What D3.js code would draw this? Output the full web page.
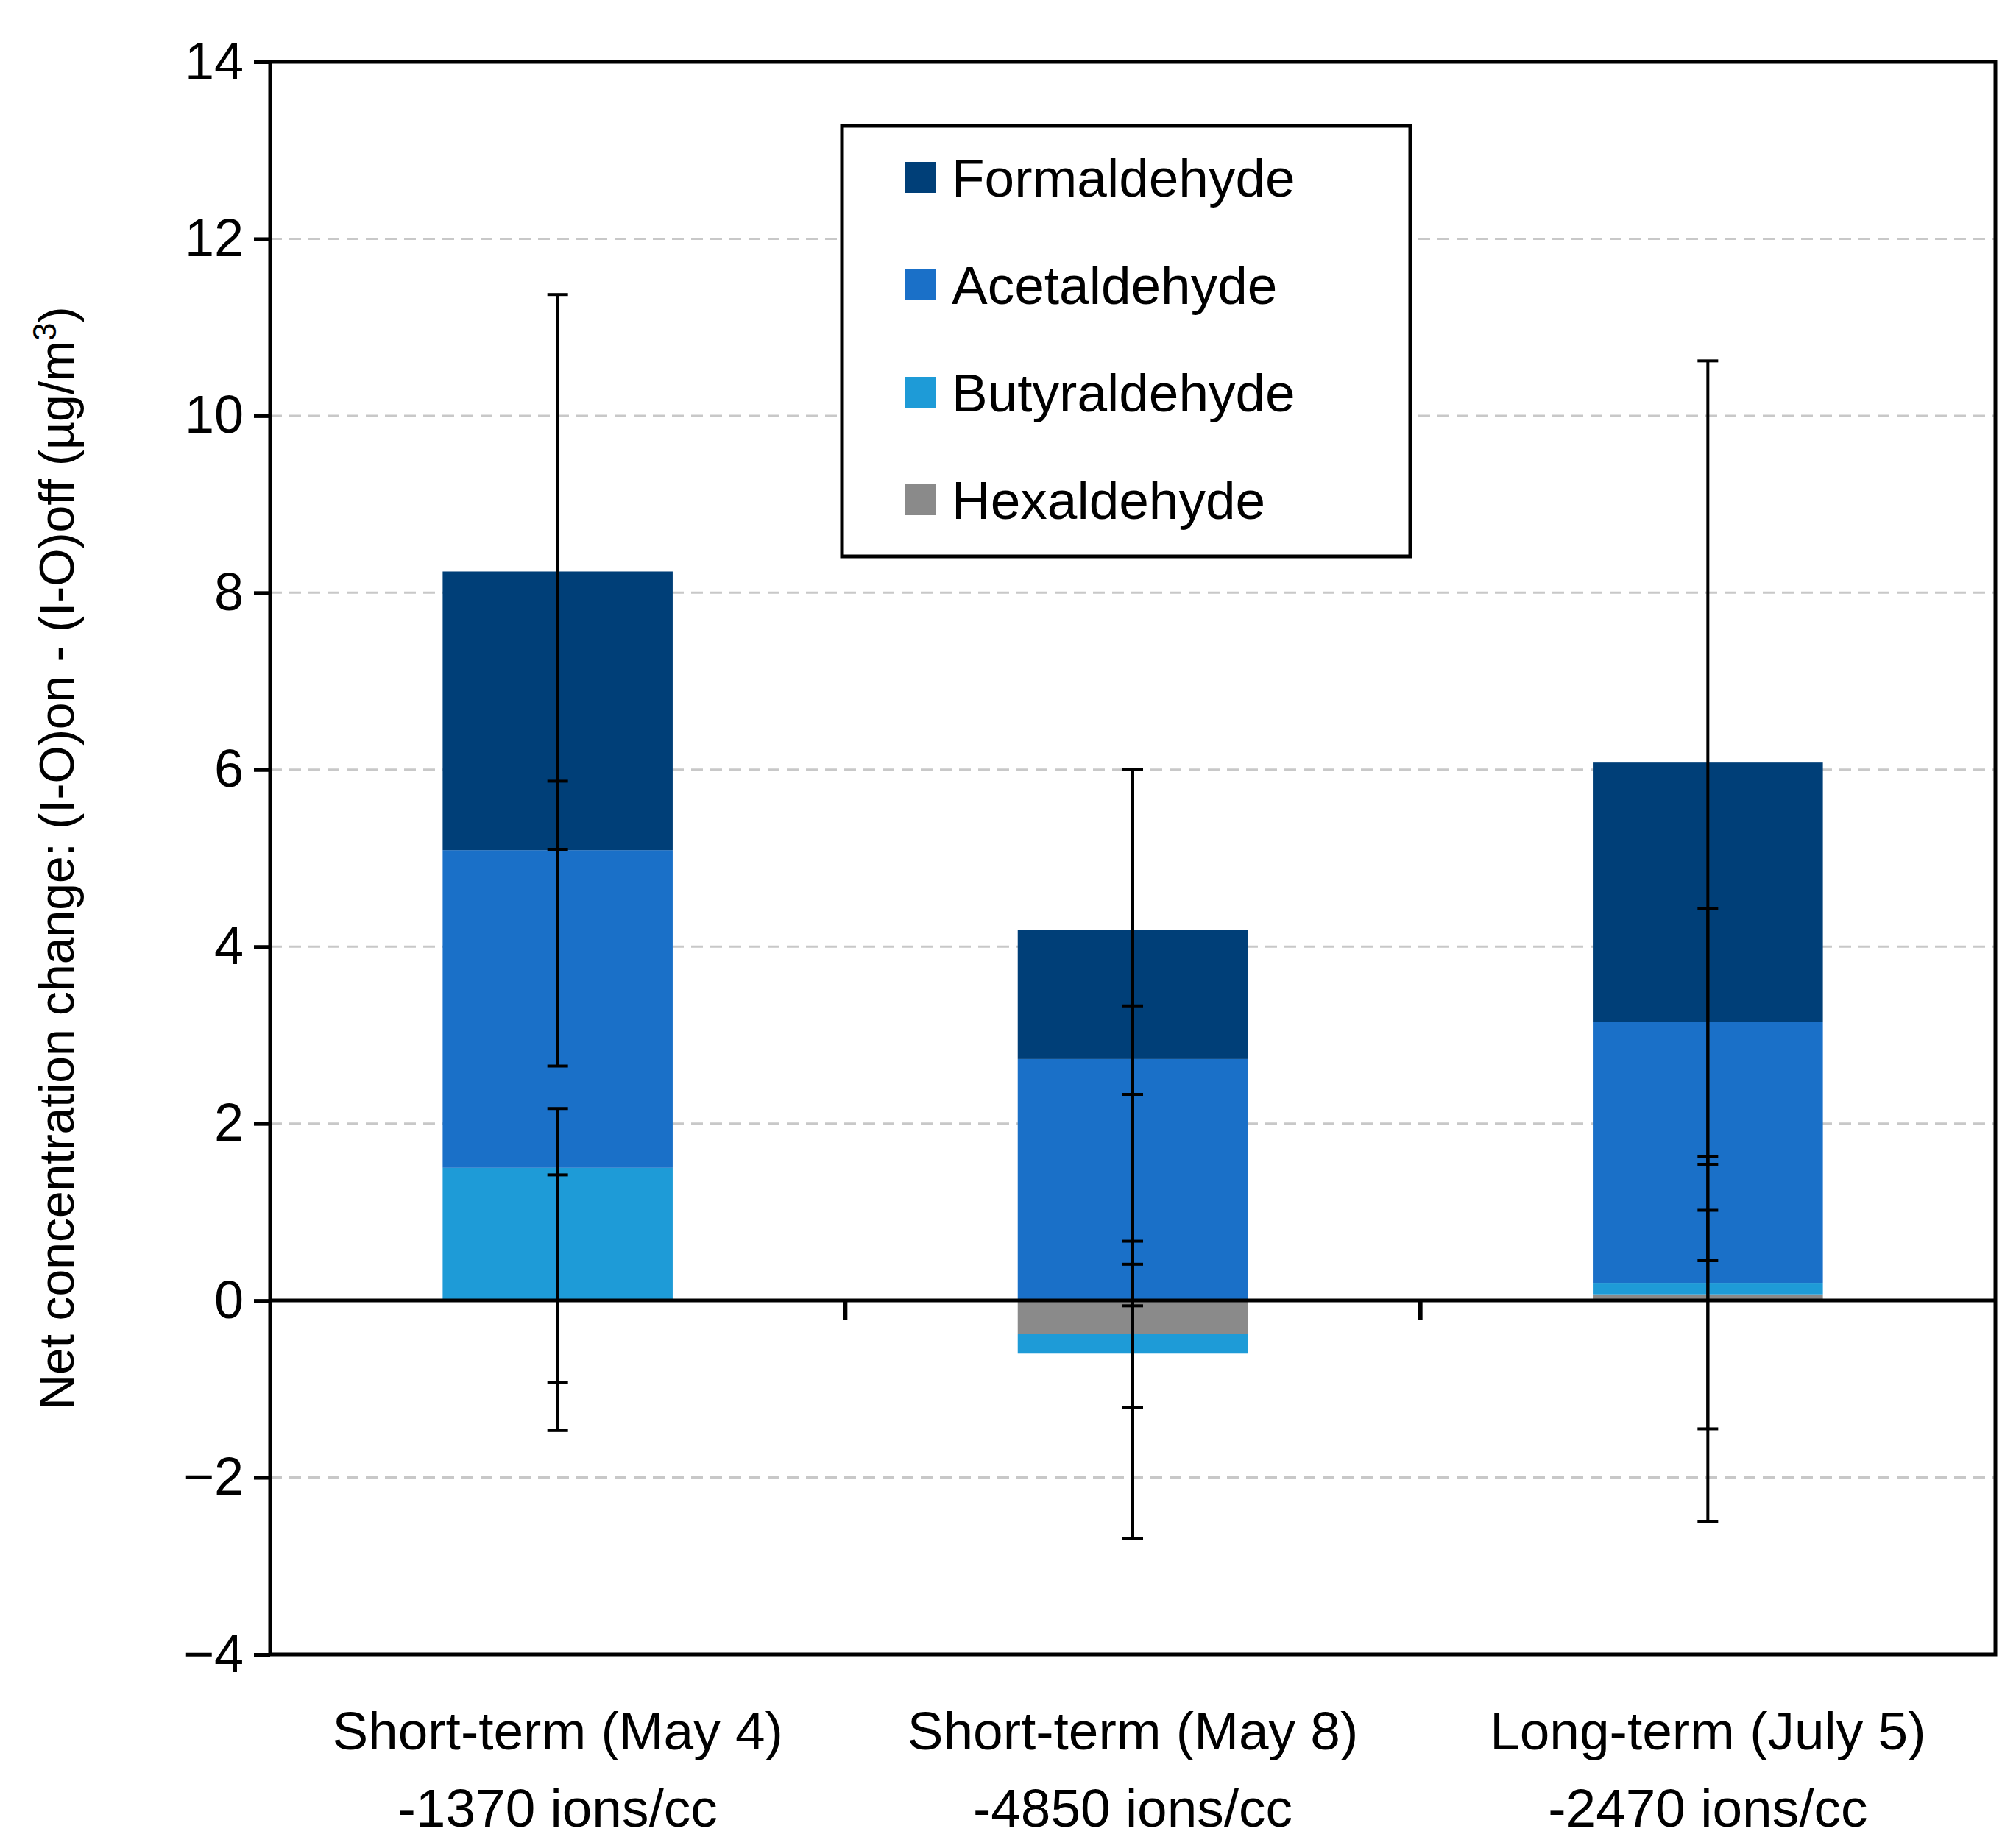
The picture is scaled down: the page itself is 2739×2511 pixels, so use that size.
<!DOCTYPE html>
<html><head><meta charset="utf-8">
<script src="https://cdnjs.cloudflare.com/ajax/libs/d3/7.8.5/d3.min.js"></script>
<style>body{margin:0;background:#fff}text{font-family:"Liberation Sans",Arial,sans-serif}</style>
</head><body><svg id="chart" width="2739" height="2511"></svg>
<script>
// chart values
var categories = ["Short-term (May 4)", "Short-term (May 8)", "Long-term (July 5)"];
var subLabels = ["-1370 ions/cc", "-4850 ions/cc", "-2470 ions/cc"];
var series = ["Formaldehyde", "Acetaldehyde", "Butyraldehyde", "Hexaldehyde"];
var colors = ["#003f78", "#1a70c8", "#1e9bd7", "#8a8a8a"];
var formaldehyde = [3.15, 1.46, 2.93];
var acetaldehyde = [3.59, 2.73, 2.95];
var butyraldehyde = [1.50, -0.22, 0.13];
var hexaldehyde = [0.0, -0.38, 0.07];
// error bar ranges [low, high] per category
var errorRanges = [
	[[5.1, 11.37], [2.65, 5.87], [-0.93, 2.17], [-1.47, 1.42]],
	[[0.67, 6.0], [-1.21, 3.33], [-2.69, 2.33], [-0.06, 0.41]],
	[[1.54, 10.62], [-2.5, 4.43], [-1.45, 1.63], [0.45, 1.02]]
];
var yTicks = [-4, -2, 0, 2, 4, 6, 8, 10, 12, 14];

var svg = d3.select("#chart");
var L = 367, R = 2711, T = 84, B = 2248;
var x = d3.scaleBand().domain(categories).range([L, R]).paddingInner(0).paddingOuter(0);
var y = d3.scaleLinear().domain([-4, 14]).range([B, T]);

// grid
svg.selectAll(".grid").data(yTicks.filter(function (d) { return d != 0 && d != -4 && d != 14; }))
	.enter().append("line")
	.attr("x1", L).attr("x2", R).attr("y1", y).attr("y2", y)
	.attr("stroke", "#c8c8c8").attr("stroke-width", 3).attr("stroke-dasharray", "16,10");

// stacks: positive and negative separately, drawn from bottom series up
var vals = [formaldehyde, acetaldehyde, butyraldehyde, hexaldehyde];
var bw = x.bandwidth() * 0.4;
categories.forEach(function (c, i) {
	var pos = 0, neg = 0;
	for (var s = 3; s >= 0; s--) {
		var v = vals[s][i];
		if (v == 0) continue;
		var y0, y1;
		if (v > 0) { y0 = pos; y1 = pos + v; pos = y1; }
		else { y0 = neg; y1 = neg + v; neg = y1; }
		svg.append("rect")
			.attr("x", x(c) + (x.bandwidth() - bw) / 2).attr("width", bw)
			.attr("y", y(Math.max(y0, y1))).attr("height", Math.abs(y(y0) - y(y1)))
			.attr("fill", colors[s]);
	}
});

// zero line
svg.append("line").attr("x1", L).attr("x2", R).attr("y1", y(0)).attr("y2", y(0))
	.attr("stroke", "#000").attr("stroke-width", 5);
// category separator ticks
[1, 2].forEach(function (k) {
	var xx = L + k * x.step();
	svg.append("line").attr("x1", xx).attr("x2", xx).attr("y1", y(0)).attr("y2", y(0) + 26)
		.attr("stroke", "#000").attr("stroke-width", 6);
});

// error bars
categories.forEach(function (c, i) {
	var cx = x(c) + x.bandwidth() / 2;
	errorRanges[i].forEach(function (r) {
		svg.append("line").attr("x1", cx).attr("x2", cx).attr("y1", y(r[0])).attr("y2", y(r[1]))
			.attr("stroke", "#000").attr("stroke-width", 4);
		r.forEach(function (v) {
			svg.append("line").attr("x1", cx - 14).attr("x2", cx + 14).attr("y1", y(v)).attr("y2", y(v))
				.attr("stroke", "#000").attr("stroke-width", 4);
		});
	});
});

// frame
svg.append("rect").attr("x", L).attr("y", T).attr("width", R - L).attr("height", B - T)
	.attr("fill", "none").attr("stroke", "#000").attr("stroke-width", 5);

// y axis
var yAxis = svg.append("g").attr("transform", "translate(" + L + ",0)")
	.call(d3.axisLeft(y).tickValues(yTicks).tickSize(22).tickPadding(14));
yAxis.select(".domain").remove();
yAxis.selectAll("line").attr("stroke-width", 5);
yAxis.selectAll("text").attr("font-size", 72).attr("fill", "#000")
	.style("font-family", "Liberation Sans, Arial, sans-serif");

// y title
var yt = svg.append("text").attr("transform", "translate(100," + ((T + B) / 2) + ") rotate(-90)")
	.attr("text-anchor", "middle").attr("font-size", 66);
yt.append("tspan").text("Net concentration change: (I-O)on - (I-O)off (\u00b5g/m");
yt.append("tspan").attr("dy", -24).attr("font-size", 44).text("3");
yt.append("tspan").attr("dy", 24).text(")");

// category labels
categories.forEach(function (c, i) {
	var cx = x(c) + x.bandwidth() / 2;
	svg.append("text").attr("x", cx).attr("y", 2377).attr("text-anchor", "middle").attr("font-size", 73).text(c);
	svg.append("text").attr("x", cx).attr("y", 2482).attr("text-anchor", "middle").attr("font-size", 73).text(subLabels[i]);
});

// legend
svg.append("rect").attr("x", 1144).attr("y", 171).attr("width", 772).attr("height", 585)
	.attr("fill", "#fff").attr("stroke", "#000").attr("stroke-width", 5);
series.forEach(function (s, k) {
	var cy = 241 + k * 146;
	svg.append("rect").attr("x", 1230).attr("y", cy - 21).attr("width", 42).attr("height", 42).attr("fill", colors[k]);
	svg.append("text").attr("x", 1293).attr("y", cy + 26).attr("font-size", 73).text(s);
});
</script></body></html>
